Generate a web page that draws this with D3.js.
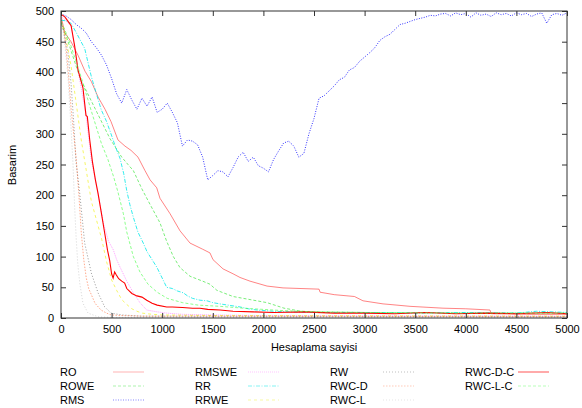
<!DOCTYPE html>
<html>
<head>
<meta charset="utf-8">
<script src="https://cdn.jsdelivr.net/npm/d3@7"></script>
<style>
  body { margin: 0; background: #fff; }
  svg { display: block; font-family: "Liberation Sans", Arial, sans-serif; }
</style>
</head>
<body>
<svg id="chart" width="582" height="408"></svg>
<script>
// values, [hesaplama, basarim]
const RO = [[0,492],[37,465],[99,450],[168,428],[237,402],[300,385],[366,360],[435,340],[494,320],[563,290],[632,280],[692,273],[761,262],[830,240],[880,225],[946,212],[978,195],[1077,170],[1176,142],[1275,122],[1400,112],[1472,106],[1502,95],[1601,80],[1700,72],[1769,66],[1868,60],[2036,52],[2194,49],[2372,48],[2550,47],[2560,42],[2700,38],[2900,35],[2984,28],[3182,23],[3251,22],[3449,19],[3775,16],[4000,15],[4239,13],[4250,7],[4600,6],[5000,6]]
const ROWE = [[0,480],[60,455],[190,390],[355,335],[484,292],[600,262],[662,250],[715,240],[800,210],[880,185],[978,155],[1044,125],[1110,100],[1176,82],[1275,68],[1400,60],[1472,55],[1541,45],[1700,35],[1868,30],[2036,25],[2204,16],[2372,11],[2500,10],[3000,9],[4000,8],[5000,8]]
const RMS = [[0,495],[50,492],[100,486],[150,478],[200,472],[250,464],[300,450],[350,440],[400,428],[450,412],[500,390],[550,365],[600,350],[650,372],[700,355],[750,340],[800,358],[850,345],[900,360],[950,335],[1000,340],[1050,350],[1100,335],[1150,318],[1200,280],[1250,290],[1300,288],[1350,282],[1400,262],[1450,225],[1500,232],[1550,240],[1600,238],[1650,230],[1700,245],[1750,262],[1800,270],[1850,255],[1900,262],[1950,248],[2000,244],[2050,238],[2100,258],[2150,272],[2200,285],[2250,288],[2300,280],[2350,262],[2400,268],[2450,300],[2500,325],[2550,358],[2600,362],[2650,370],[2700,378],[2750,388],[2800,392],[2850,404],[2900,408],[2950,418],[3000,425],[3050,432],[3100,440],[3150,452],[3200,458],[3250,462],[3300,470],[3350,478],[3400,480],[3450,483],[3500,486],[3550,488],[3600,490],[3650,493],[3700,492],[3750,495],[3800,496],[3850,492],[3900,497],[3950,494],[4000,496],[4050,490],[4100,497],[4150,493],[4200,495],[4250,491],[4300,497],[4350,494],[4400,496],[4450,492],[4500,497],[4550,494],[4600,496],[4650,491],[4700,495],[4750,497],[4800,480],[4850,494],[4900,496],[4950,493],[5000,497]]
const RMSWE = [[0,492],[100,476],[168,404],[247,330],[300,257],[366,203],[418,155],[470,125],[517,111],[550,95],[583,83],[650,60],[715,41],[780,25],[847,13],[950,10],[1044,8],[1200,6],[1500,5],[2000,4],[5000,3]]
const RR = [[0,485],[50,484],[99,480],[150,465],[234,439],[300,393],[350,365],[398,339],[450,320],[494,300],[540,278],[583,260],[620,235],[649,208],[680,185],[715,164],[760,140],[813,122],[850,108],[900,95],[946,83],[1000,65],[1044,50],[1100,48],[1150,44],[1209,41],[1250,36],[1300,32],[1373,29],[1443,28],[1500,25],[1571,23],[1650,21],[1769,18],[1850,15],[1937,13],[2100,11],[2263,10],[2500,9],[3000,9],[3500,8],[4000,9],[4500,8],[4700,11],[5000,9]]
const RRWE = [[0,485],[50,455],[100,410],[150,350],[200,290],[250,240],[300,190],[350,160],[400,130],[450,92],[500,62],[550,45],[600,30],[650,22],[700,15],[750,11],[800,8],[900,6],[1000,5],[1500,4],[5000,3]]
const RW = [[0,485],[30,465],[69,431],[99,383],[125,320],[148,255],[185,203],[234,122],[300,73],[366,41],[432,18],[494,8],[600,5],[800,3],[5000,2]]
const RWCD = [[0,482],[25,470],[50,440],[75,395],[100,340],[125,300],[150,260],[175,205],[200,140],[225,95],[250,65],[275,47],[300,38],[336,24],[395,13],[450,8],[494,5],[600,4],[800,3],[5000,2]]
const RWCL = [[0,480],[20,470],[37,448],[69,393],[99,311],[119,250],[135,180],[150,130],[165,90],[185,57],[217,24],[267,8],[366,2],[500,1],[5000,1]]
const RWCDC = [[0,495],[40,490],[70,483],[100,476],[135,443],[168,404],[200,385],[217,375],[247,330],[260,328],[284,290],[310,255],[340,225],[366,203],[400,170],[432,138],[460,110],[481,94],[500,72],[515,65],[530,75],[547,70],[570,64],[600,60],[629,57],[650,48],[700,40],[750,36],[800,34],[847,29],[900,24],[950,21],[1044,18],[1100,18],[1200,17],[1300,16],[1373,16],[1450,14],[1571,13],[1700,11],[1900,10],[2100,9],[2400,10],[2700,8],[3000,8],[3300,7],[3600,9],[3900,7],[4200,8],[4500,7],[4800,9],[5000,7]]
const RWCLC = [[0,482],[37,470],[99,443],[198,393],[296,339],[398,285],[464,258],[520,230],[563,205],[616,170],[650,140],[715,100],[780,75],[860,55],[950,42],[1050,32],[1200,25],[1354,21],[1571,19],[1800,16],[2000,14],[2200,12],[2500,10],[3000,9],[4000,8],[5000,8]]

const seriesNames = ["RO","ROWE","RMS","RMSWE","RR","RRWE","RW","RWC-D","RWC-L","RWC-D-C","RWC-L-C"]
const seriesData = [RO, ROWE, RMS, RMSWE, RR, RRWE, RW, RWCD, RWCL, RWCDC, RWCLC]
const xTicks = [0,500,1000,1500,2000,2500,3000,3500,4000,4500,5000]
const yTicks = [0,50,100,150,200,250,300,350,400,450,500]

const styles = [
  {c:"#ff3030", d:null, w:0.6},
  {c:"#20e020", d:"3,2", w:0.6},
  {c:"#0000ff", d:"1,1.5", w:0.8},
  {c:"#ff60ff", d:"1,1", w:0.6},
  {c:"#00e8e8", d:"4,1.5,1,1.5", w:0.8},
  {c:"#f0f000", d:"3,3", w:0.6},
  {c:"#505050", d:"1,2", w:0.6},
  {c:"#ff7040", d:"1.5,1.5", w:0.6},
  {c:"#b8b8b8", d:"1,2", w:0.6},
  {c:"#ff0000", d:null, w:1.1},
  {c:"#40ff40", d:"3,2", w:0.6}
]

const svg = d3.select("#chart")
const L = 61, R = 567, T = 11, B = 318

const x = d3.scaleLinear().domain([0,5000]).range([L,R])
const y = d3.scaleLinear().domain([0,500]).range([B,T])

const line = d3.line().x(d=>x(d[0])).y(d=>y(d[1]))

const plot = svg.append("g")
plot.append("clipPath").attr("id","clip")
  .append("rect").attr("x",L).attr("y",T-1).attr("width",R-L).attr("height",B-T+1)

seriesData.forEach((s,i)=>{
  plot.append("path")
    .datum(s)
    .attr("clip-path","url(#clip)")
    .attr("d", line)
    .attr("fill","none")
    .attr("stroke", styles[i].c)
    .attr("stroke-width", styles[i].w)
    .attr("stroke-dasharray", styles[i].d)
})

// frame with mirrored inward ticks, gnuplot style
const axisCol = "#333"
const fmt = d3.format("d")
svg.append("g").attr("transform",`translate(0,${B})`)
  .call(d3.axisBottom(x).tickValues(xTicks).tickFormat(fmt).tickSizeInner(-5).tickSizeOuter(0).tickPadding(7))
svg.append("g").attr("transform",`translate(0,${T})`)
  .call(d3.axisTop(x).tickValues(xTicks).tickSizeInner(-5).tickSizeOuter(0).tickFormat(""))
svg.append("g").attr("transform",`translate(${L},0)`)
  .call(d3.axisLeft(y).tickValues(yTicks).tickFormat(fmt).tickSizeInner(-5).tickSizeOuter(0).tickPadding(7))
svg.append("g").attr("transform",`translate(${R},0)`)
  .call(d3.axisRight(y).tickValues(yTicks).tickSizeInner(-5).tickSizeOuter(0).tickFormat(""))

svg.selectAll(".domain").remove()
svg.selectAll(".tick line").attr("stroke",axisCol)
svg.selectAll(".tick text").attr("font-size",11).attr("fill","#000")
  .attr("font-family",'"Liberation Sans", Arial, sans-serif')

svg.append("rect").attr("x",L).attr("y",T).attr("width",R-L).attr("height",B-T)
  .attr("fill","none").attr("stroke",axisCol).attr("stroke-width",1)

svg.append("text").attr("x",(L+R)/2).attr("y",351).attr("text-anchor","middle")
  .attr("font-size",11).text("Hesaplama sayisi")
svg.append("text").attr("transform","translate(16,165) rotate(-90)").attr("text-anchor","middle")
  .attr("font-size",11).text("Basarim")

// legend, column-major, 3 rows
const legend = svg.append("g")
const colX = [60,195,330,465]
const rowY = [372,386,400]
seriesNames.forEach((n,i)=>{
  const cx = colX[Math.floor(i/3)], cy = rowY[i%3]
  legend.append("text").attr("x",cx).attr("y",cy+4).attr("font-size",11).text(n)
  legend.append("line").attr("x1",cx+53).attr("x2",cx+84).attr("y1",cy).attr("y2",cy)
    .attr("stroke",styles[i].c).attr("stroke-width",styles[i].w)
    .attr("stroke-dasharray",styles[i].d).attr("opacity",0.6)
})
</script>
</body>
</html>
